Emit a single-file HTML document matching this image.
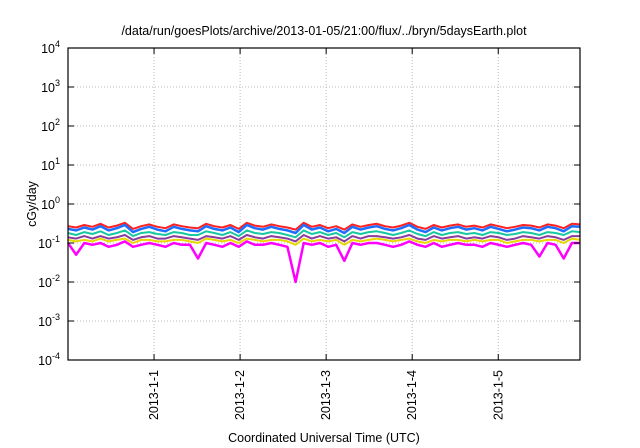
<!DOCTYPE html>
<html><head><meta charset="utf-8"><style>
body{margin:0;background:#fff;}
svg{display:block;font-family:"Liberation Sans",sans-serif;}
</style></head><body>
<svg id="chart" width="640" height="448" viewBox="0 0 640 448">
<rect width="640" height="448" fill="#fff"/>
<text x="324" y="35" text-anchor="middle" font-size="12.5" fill="#000">/data/run/goesPlots/archive/2013-01-05/21:00/flux/../bryn/5daysEarth.plot</text>
<g id="grid"></g><g id="series"></g><g id="axes"></g>
<text transform="translate(36,204) rotate(-90)" text-anchor="middle" font-size="12.5">cGy/day</text>
<text x="324" y="442" text-anchor="middle" font-size="12.5">Coordinated Universal Time (UTC)</text>
</svg>
<script>
const yTickExps=[-4,-3,-2,-1,0,1,2,3,4];
const xTickLabels=["2013-1-1","2013-1-2","2013-1-3","2013-1-4","2013-1-5"];
const xTickDays=[1,2,3,4,5];
const seriesColors=["#ff00ff","#e8d800","#8a3c9c","#18c8a0","#ff2020","#1e6eff"];
const red=[0.27,0.25,0.29,0.26,0.31,0.25,0.28,0.33,0.23,0.27,0.30,0.26,0.24,0.30,0.27,0.25,0.24,0.31,0.27,0.25,0.29,0.23,0.33,0.28,0.26,0.30,0.27,0.25,0.22,0.33,0.26,0.29,0.24,0.27,0.22,0.30,0.26,0.29,0.31,0.27,0.25,0.28,0.33,0.26,0.23,0.29,0.25,0.28,0.30,0.26,0.28,0.25,0.30,0.27,0.24,0.26,0.29,0.28,0.25,0.30,0.28,0.24,0.31,0.30];
const blue=[0.23,0.21,0.25,0.22,0.27,0.21,0.24,0.29,0.19,0.23,0.26,0.22,0.20,0.26,0.23,0.21,0.20,0.27,0.23,0.21,0.25,0.19,0.29,0.24,0.22,0.26,0.23,0.21,0.18,0.29,0.22,0.25,0.20,0.23,0.18,0.26,0.22,0.25,0.27,0.23,0.21,0.24,0.29,0.22,0.19,0.25,0.21,0.24,0.26,0.22,0.24,0.21,0.26,0.23,0.20,0.22,0.25,0.24,0.21,0.26,0.24,0.20,0.27,0.26];
const teal=[0.18,0.16,0.19,0.17,0.20,0.16,0.18,0.21,0.15,0.18,0.19,0.17,0.16,0.19,0.18,0.16,0.16,0.20,0.18,0.16,0.19,0.15,0.21,0.18,0.17,0.19,0.18,0.16,0.14,0.21,0.17,0.19,0.16,0.18,0.14,0.19,0.17,0.19,0.20,0.18,0.16,0.18,0.21,0.17,0.15,0.19,0.16,0.18,0.19,0.17,0.18,0.16,0.19,0.18,0.16,0.17,0.19,0.18,0.16,0.19,0.18,0.16,0.20,0.19];
const purple=[0.14,0.13,0.15,0.13,0.15,0.13,0.14,0.16,0.12,0.14,0.15,0.13,0.13,0.15,0.14,0.13,0.12,0.15,0.14,0.13,0.15,0.12,0.16,0.14,0.13,0.15,0.14,0.13,0.11,0.16,0.13,0.15,0.13,0.14,0.11,0.15,0.13,0.15,0.15,0.14,0.13,0.14,0.16,0.13,0.12,0.15,0.13,0.14,0.15,0.13,0.14,0.13,0.15,0.14,0.12,0.13,0.15,0.14,0.13,0.15,0.14,0.12,0.15,0.15];
const yellow=[0.12,0.11,0.12,0.11,0.13,0.11,0.12,0.13,0.10,0.12,0.12,0.11,0.11,0.12,0.12,0.11,0.10,0.13,0.12,0.11,0.12,0.10,0.13,0.12,0.11,0.12,0.12,0.11,0.09,0.13,0.11,0.12,0.11,0.12,0.09,0.12,0.11,0.12,0.13,0.12,0.11,0.12,0.13,0.11,0.10,0.12,0.11,0.12,0.12,0.11,0.12,0.11,0.12,0.12,0.10,0.11,0.12,0.12,0.11,0.12,0.12,0.10,0.13,0.12];
const magenta=[0.10,0.05,0.10,0.09,0.10,0.08,0.09,0.11,0.08,0.09,0.10,0.09,0.08,0.10,0.09,0.09,0.04,0.10,0.09,0.08,0.10,0.08,0.11,0.09,0.09,0.10,0.09,0.08,0.01,0.10,0.09,0.10,0.08,0.09,0.035,0.10,0.09,0.10,0.10,0.09,0.08,0.09,0.11,0.09,0.08,0.10,0.08,0.09,0.10,0.09,0.09,0.08,0.10,0.09,0.08,0.09,0.10,0.09,0.045,0.10,0.09,0.04,0.10,0.10];
const seriesList=[magenta,yellow,purple,teal,red,blue];
const seriesNames=["series-magenta","series-yellow","series-purple","series-teal","series-red","series-blue"];

const L=68,R=580,T=48,B=360;
const NS="http://www.w3.org/2000/svg";
function yScale(v){return B-(Math.log10(v)+4)/8*(B-T);}
function xDay(d){return L+(d-0.0)*(R-L)/5.95;}
function xIdx(i,n){return L+i*(R-L)/(n-1);}
function mk(tag,attrs,parent){const e=document.createElementNS(NS,tag);for(const k in attrs)e.setAttribute(k,attrs[k]);parent.appendChild(e);return e;}
const grid=document.getElementById('grid'),axes=document.getElementById('axes'),ser=document.getElementById('series');
yTickExps.forEach(ex=>{
  const y=yScale(Math.pow(10,ex));
  if(ex>-4&&ex<4){const g=mk('line',{x1:L,x2:R,y1:y,y2:y,stroke:'#bbb','stroke-width':1,'stroke-dasharray':'1,2'},grid);
  
  }
  mk('line',{x1:L,x2:L+6,y1:y,y2:y,stroke:'#000'},axes);
  mk('line',{x1:R,x2:R-6,y1:y,y2:y,stroke:'#000'},axes);
  const t=mk('text',{x:L-8,y:y+5,'text-anchor':'end','font-size':'12.5'},axes);
  
  
  t.textContent='10';
  const s=mk('tspan',{dy:-6,'font-size':'9'},t);s.textContent=String(ex);
});
xTickDays.forEach((d,i)=>{
  const x=xDay(d);
  const g=mk('line',{x1:x,x2:x,y1:T,y2:B,stroke:'#bbb','stroke-width':1,'stroke-dasharray':'1,2'},grid);
  
  
  mk('line',{x1:x,x2:x,y1:B,y2:B-6,stroke:'#000'},axes);
  mk('line',{x1:x,x2:x,y1:T,y2:T+6,stroke:'#000'},axes);
  const t=mk('text',{transform:`translate(${x+4},370) rotate(-90)`,'text-anchor':'end','font-size':'12.5'},axes);
  
  
  t.textContent=xTickLabels[i];
});
const fr=mk('rect',{x:L,y:T,width:R-L,height:B-T,fill:'none',stroke:'#000','stroke-width':1.2},axes);


seriesList.forEach((arr,k)=>{
  const pts=arr.map((v,i)=>xIdx(i,arr.length).toFixed(1)+','+yScale(v).toFixed(1)).join(' ');
  const p=mk('polyline',{points:pts,fill:'none',stroke:seriesColors[k],'stroke-width':k===0?2.5:(k===5?2.5:2),'stroke-linejoin':'round'},ser);
  
  
});
</script>
</body></html>
